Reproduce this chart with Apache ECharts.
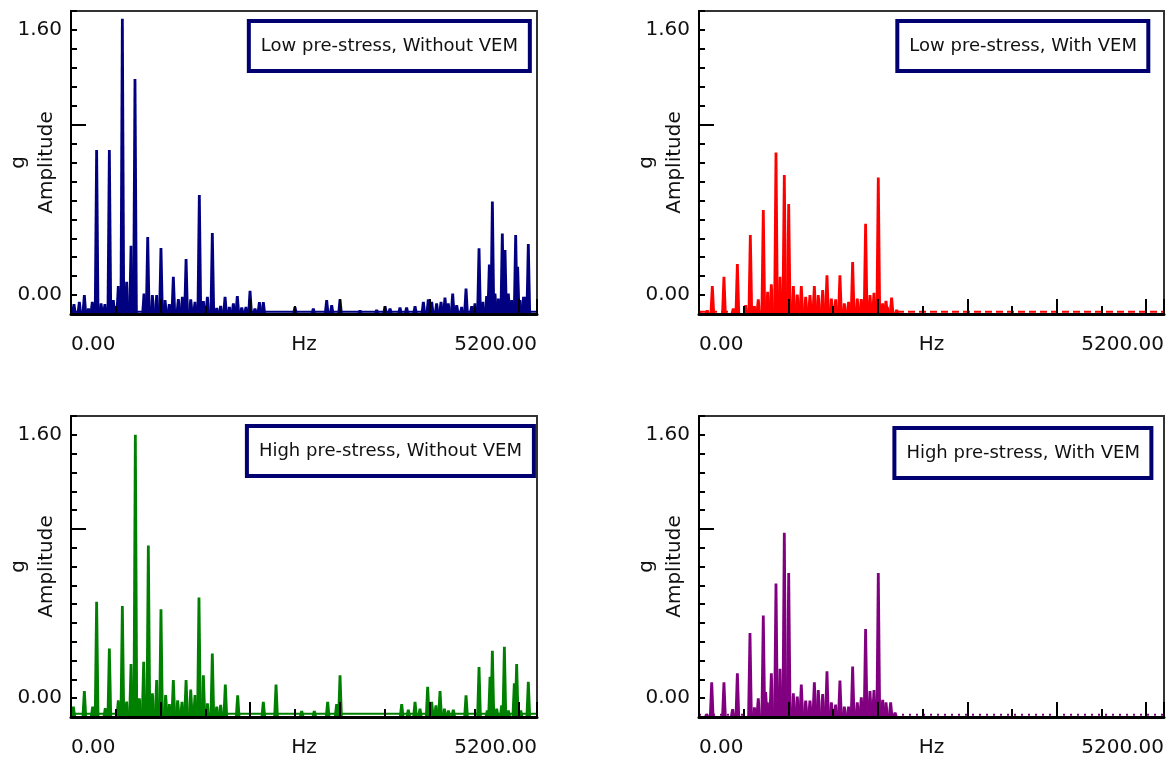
<!DOCTYPE html>
<html>
<head>
<meta charset="utf-8">
<script src="https://cdn.jsdelivr.net/npm/echarts@6/dist/echarts.min.js"></script>
<style>
  html, body { margin: 0; padding: 0; background: #fff; }
  #main { width: 1168px; height: 758px; }
</style>
</head>
<body>
<div id="main"></div>
<script>
// y axis: 14 small steps between 0.00 and 1.60, one extra step below and above
var U = 1.6 / 14;
var Y_MIN = -U, Y_MAX = 15 * U;
var F_MAX = 5200;
var FONT = 'DejaVu Sans';

var legendNames = ['Low pre-stress, Without VEM', 'Low pre-stress, With VEM',
                   'High pre-stress, Without VEM', 'High pre-stress, With VEM'];
var colors = ['#000080', '#ff0000', '#008000', '#800080'];

// peak frequencies (Hz) and amplitudes (g)
var lowNoFreq = [33, 93, 149, 194, 238, 286, 335, 379, 428, 472, 528, 573, 621, 670, 714, 815, 856, 908, 956, 1004,
  1049, 1097, 1142, 1198, 1243, 1284, 1336, 1384, 1432, 1477, 1522, 1577, 1626, 1670, 1719, 1767, 1812, 1856, 1905, 1953,
  1998, 2053, 2102, 2146, 2499, 2704, 2853, 2909, 3002, 3225, 3411, 3504, 3560, 3671, 3745, 3839, 3932, 3987, 4025, 4080,
  4129, 4173, 4210, 4259, 4304, 4360, 4408, 4471, 4508, 4553, 4594, 4638, 4668, 4702, 4731, 4769, 4813, 4843, 4880, 4917,
  4962, 4984, 5010, 5050, 5074, 5103];
var lowNoAmp = [-0.054, -0.04, 0.0, -0.08, -0.04, 0.876, -0.05, -0.054, 0.876, -0.03, 0.054, 1.667, 0.081, 0.298, 1.304, 0.01, 0.35, 0.0, 0.0, 0.284,
  -0.03, -0.054, 0.111, -0.024, -0.01, 0.217, -0.026, -0.04, 0.604, -0.036, -0.01, 0.374, -0.076, -0.064, -0.01, -0.07, -0.05, -0.006, -0.074, -0.07,
  0.026, -0.08, -0.042, -0.042, -0.07, -0.08, -0.03, -0.06, -0.026, -0.09, -0.087, -0.066, -0.08, -0.074, -0.074, -0.066, -0.04, -0.026, -0.04, -0.05,
  -0.04, -0.014, -0.05, 0.01, -0.06, -0.07, 0.04, -0.066, -0.05, 0.282, -0.04, -0.006, 0.185, 0.564, 0.01, -0.02, 0.372, 0.272, 0.01, -0.03,
  0.362, 0.171, -0.03, -0.01, -0.01, 0.308];

var lowVemFreq = [11, 93, 149, 279, 384, 429, 522, 574, 619, 663, 719, 768, 809, 861, 906, 954, 1003, 1055, 1099, 1144,
  1193, 1241, 1290, 1334, 1383, 1431, 1480, 1528, 1576, 1625, 1673, 1718, 1770, 1815, 1863, 1912, 1957, 2005, 2054, 2091,
  2106, 2154, 2210];
var lowVemAmp = [-0.1, -0.09, 0.054, 0.11, -0.08, 0.187, -0.06, 0.362, -0.066, -0.026, 0.513, 0.02, 0.066, 0.86, 0.11, 0.725, 0.55, 0.054, 0.004, 0.054,
  -0.01, 0.0, 0.054, 0.0, 0.03, 0.12, -0.02, -0.026, 0.12, -0.05, -0.04, 0.2, -0.02, -0.024, 0.43, 0.0, 0.014, 0.71, -0.05, -0.034,
  -0.07, -0.014, -0.087];

var highNoFreq = [26, 149, 242, 286, 383, 428, 528, 573, 621, 670, 718, 763, 811, 863, 908, 956, 1004, 1056, 1097, 1142,
  1190, 1239, 1284, 1336, 1384, 1428, 1477, 1522, 1577, 1626, 1670, 1722, 1860, 2146, 2288, 2574, 2715, 2864, 2964, 3002,
  3690, 3764, 3839, 3894, 3980, 4025, 4073, 4118, 4166, 4211, 4266, 4408, 4553, 4646, 4676, 4702, 4750, 4806, 4836, 4880,
  4947, 4973, 5018, 5103];
var highNoAmp = [-0.05, 0.043, -0.05, 0.586, -0.06, 0.302, -0.012, 0.56, -0.02, 0.207, 1.6, 0.0, 0.221, 0.927, 0.03, 0.11, 0.541, 0.02, -0.036, 0.11,
  -0.012, -0.022, 0.11, 0.053, 0.02, 0.612, 0.14, -0.03, 0.272, -0.05, -0.04, 0.083, 0.018, -0.022, 0.083, -0.077, -0.077, -0.022, -0.036, 0.14,
  -0.036, -0.069, -0.022, -0.063, 0.07, -0.022, -0.043, 0.043, -0.063, -0.073, -0.069, 0.018, 0.19, -0.073, 0.13, 0.288, -0.063, -0.043, 0.312, -0.073,
  0.09, 0.207, -0.073, 0.1];

var highVemFreq = [86, 142, 279, 376, 429, 570, 619, 663, 719, 745, 764, 809, 861, 906, 954, 1003, 1055, 1099, 1144, 1193,
  1241, 1290, 1334, 1383, 1431, 1480, 1528, 1576, 1625, 1673, 1718, 1770, 1815, 1863, 1912, 1957, 2005, 2054, 2091, 2143,
  2192];
var highVemAmp = [-0.095, 0.097, 0.097, -0.065, 0.152, 0.396, -0.055, 0.0, 0.503, 0.037, -0.024, 0.152, 0.696, 0.179, 1.005, 0.761, 0.03, 0.01, 0.083, -0.014,
  -0.014, 0.097, 0.05, 0.026, 0.164, -0.024, -0.039, 0.108, -0.05, -0.05, 0.193, -0.024, 0.006, 0.42, 0.043, 0.05, 0.761, -0.01, -0.024, -0.024,
  -0.085];

// noise floor level of each spectrum
var floorLevel = [-0.1, -0.1, -0.095, -0.1];
var floorDash = ['solid', [7, 4], 'solid', [2, 5]];

var freqs = [lowNoFreq, lowVemFreq, highNoFreq, highVemFreq];
var amps = [lowNoAmp, lowVemAmp, highNoAmp, highVemAmp];

var grids = [
  { left: 71, top: 11, width: 466, height: 303 },
  { left: 699, top: 11, width: 465, height: 303 },
  { left: 71, top: 416, width: 466, height: 301 },
  { left: 699, top: 416, width: 465, height: 301 }
];
var boxPos = [
  { right: 638, top: 21 },
  { right: 19, top: 21 },
  { right: 634, top: 426 },
  { right: 16, top: 428 }
];

var myChart = echarts.init(document.getElementById('main'));

function spike(params, api) {
  var top = api.coord([api.value(0), api.value(1)]);
  var base = api.coord([api.value(0), Y_MIN]);
  return {
    type: 'polygon',
    shape: {
      points: [[top[0] - 2.8, base[1]], [top[0] - 1.4, top[1]], [top[0] + 1.4, top[1]], [top[0] + 2.8, base[1]]]
    },
    style: { fill: api.visual('color') }
  };
}

var textStyle = { fontFamily: FONT, fontSize: 20, color: '#111' };
var xAxes = [], yAxes = [], series = [], titles = [];

for (var i = 0; i < 4; i++) {
  var g = grids[i];
  g.show = true;
  g.borderColor = '#333';
  g.borderWidth = 2;
  g.containLabel = false;
  g.outerBoundsMode = 'none';

  // x axis with labels, ticks every 500 Hz
  xAxes.push({
    gridIndex: i, type: 'value', position: 'bottom', min: 0, max: F_MAX, interval: 500, z: 5,
    name: 'Hz', nameLocation: 'middle', nameGap: 21, nameMoveOverlap: false, nameTextStyle: textStyle,
    axisLine: { onZero: false, lineStyle: { color: '#000', width: 3 } },
    axisTick: { inside: true, length: 8, lineStyle: { color: '#000', width: 2 } },
    axisLabel: {
      margin: 21, fontFamily: FONT, fontSize: 20, color: '#111',
      showMinLabel: true, showMaxLabel: true,
      alignMinLabel: 'left', alignMaxLabel: 'right',
      formatter: function (v) { return (v === 0 || v === F_MAX) ? v.toFixed(2) : ''; }
    },
    splitLine: { show: false }
  });
  // longer ticks every 1000 Hz
  xAxes.push({
    gridIndex: i, type: 'value', position: 'bottom', min: 0, max: F_MAX, interval: 1000, z: 5,
    axisLine: { show: false, onZero: false },
    axisTick: { inside: true, length: 15, lineStyle: { color: '#000', width: 2 } },
    axisLabel: { show: false },
    splitLine: { show: false }
  });

  yAxes.push({
    gridIndex: i, type: 'value', position: 'left', min: Y_MIN, max: Y_MAX, interval: U, z: 5,
    name: 'g\nAmplitude', nameLocation: 'middle', nameRotate: 90, nameGap: 10, nameMoveOverlap: false,
    nameTextStyle: { fontFamily: FONT, fontSize: 20, color: '#111', lineHeight: 28 },
    axisLine: { show: true, onZero: false, lineStyle: { color: '#000', width: 2 } },
    axisTick: { inside: true, length: 6, lineStyle: { color: '#000', width: 2 } },
    axisLabel: {
      margin: 9, fontFamily: FONT, fontSize: 20, color: '#111',
      formatter: function (v) {
        return (Math.abs(v) < 1e-9 || Math.abs(v - 1.6) < 1e-9) ? v.toFixed(2) : '';
      }
    },
    splitLine: { show: false }
  });
  // one long tick on the left axis
  yAxes.push({
    gridIndex: i, type: 'value', position: 'left', offset: 0, min: Y_MIN, max: Y_MAX, z: 5,
    axisLine: { show: false, onZero: false },
    axisTick: { show: true, inside: true, length: 15, customValues: [9 * U], lineStyle: { color: '#000', width: 2 } },
    axisLabel: { show: false },
    splitLine: { show: false }
  });

  var pts = [];
  for (var k = 0; k < freqs[i].length; k++) {
    pts.push([freqs[i][k], amps[i][k]]);
  }
  series.push({
    type: 'custom', xAxisIndex: 2 * i, yAxisIndex: 2 * i, clip: true, z: 2,
    itemStyle: { color: colors[i] },
    renderItem: spike,
    data: pts
  });
  series.push({
    type: 'line', xAxisIndex: 2 * i, yAxisIndex: 2 * i, symbol: 'none', silent: true, z: 2,
    lineStyle: { color: colors[i], width: 2, type: floorDash[i] },
    data: [[0, floorLevel[i]], [F_MAX, floorLevel[i]]]
  });

  titles.push({
    text: legendNames[i],
    right: boxPos[i].right, top: boxPos[i].top,
    padding: [16, 12],
    backgroundColor: '#fff',
    borderColor: '#000070', borderWidth: 4,
    textStyle: { fontFamily: FONT, fontSize: 18, fontWeight: 'normal', color: '#111' }
  });
}

var option = {
  animation: false,
  backgroundColor: '#fff',
  title: titles,
  grid: grids,
  xAxis: xAxes,
  yAxis: yAxes,
  series: series
};
myChart.setOption(option);
</script>
</body>
</html>
